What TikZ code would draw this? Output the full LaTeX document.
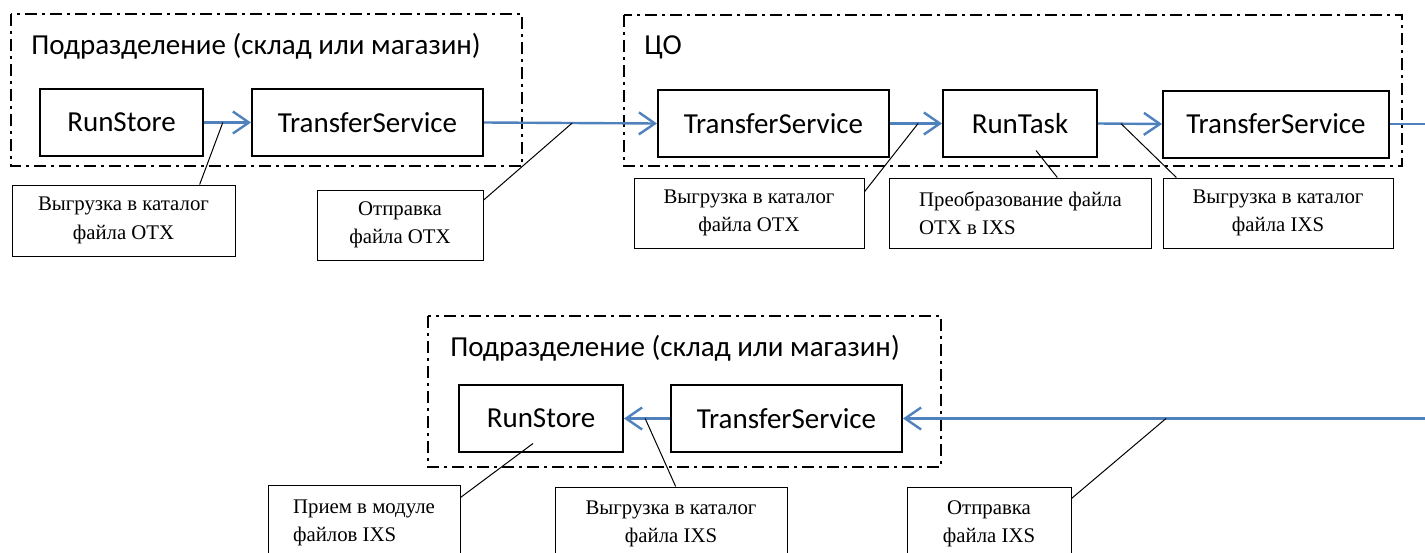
\documentclass[tikz,border=0pt]{standalone}
\usepackage{fontspec}
\setmainfont{Liberation Serif}
\newfontfamily\boxfont{Carlito}
\usetikzlibrary{arrows.meta,calc}
\definecolor{flowblue}{RGB}{79,129,189}

\begin{document}
\begin{tikzpicture}[x=0.5pt, y=-0.5pt,
  unit/.style={draw=black, line width=1pt, font=\boxfont\fontsize{14.5}{17}\selectfont, inner sep=0pt, minimum height=33.5pt},
  note/.style={draw=black, line width=0.5pt, font=\fontsize{10.4}{14.3}\selectfont, inner sep=0pt, minimum height=35pt, align=center},
  zone/.style={line width=0.8pt, dash pattern=on 6pt off 2.5pt on 1.5pt off 2.5pt},
  title/.style={anchor=west, inner sep=0pt, font=\boxfont\fontsize{14.5}{17}\selectfont},
  flow/.style={flowblue, line width=1.2pt, -{Straight Barb[length=8pt,width=11pt]}},
  lead/.style={line width=0.5pt}]
  \clip (0,0) rectangle (1425,552);

  % Subdivision, sending side
  \draw[zone] (11,14) rectangle (522,166);
  \node[title] (sub1) at (31,46) {Подразделение (склад или магазин)};
  \node[unit, minimum width=81.5pt] (rs1) at (121.5,122.5) {RunStore};
  \node[unit, minimum width=115.5pt] (ts1) at (367.5,122.5) {TransferService};

  % Central office
  \draw[zone] (624,15) rectangle (1402,166);
  \node[title] (co) at (644,47) {ЦО};
  \node[unit, minimum width=115.5pt] (ts2) at (773.5,123.5) {TransferService};
  \node[unit, minimum width=77pt] (rt) at (1020,123.5) {RunTask};
  \node[unit, minimum width=113pt] (ts3) at (1276,124) {TransferService};

  % Subdivision, receiving side
  \draw[zone] (428,316) rectangle (941,467);
  \node[title] (sub2) at (450,348) {Подразделение (склад или магазин)};
  \node[unit, minimum width=82pt] (rs2) at (541,418.5) {RunStore};
  \node[unit, minimum width=115.5pt] (ts4) at (786.5,418.5) {TransferService};

  % Notes
  \node[note, minimum width=111.5pt, minimum height=35.5pt] (c1) at (123.5,220.5) {Выгрузка в каталог\\файла ОТХ};
  \node[note, minimum width=83pt] (c2) at (400,225) {Отправка\\файла ОТХ};
  \node[note, minimum width=115pt] (ca) at (749,213) {Выгрузка в каталог\\файла ОТХ};
  \node[note, minimum width=131pt, align=left] (cb) at (1020.5,213) {Преобразование файла\\OTX в IXS};
  \node[note, minimum width=115pt] (cc) at (1278,213) {Выгрузка в каталог\\файла IXS};
  \node[note, minimum width=96pt, minimum height=38pt, align=left] (cd) at (364,523) {Прием в модуле\\файлов IXS};
  \node[note, minimum width=116pt, minimum height=37pt] (ce) at (671,524) {Выгрузка в каталог\\файла IXS};
  \node[note, minimum width=82pt, minimum height=37pt] (cf) at (989,524) {Отправка\\файла IXS};

  % Flow arrows
  \coordinate (edge) at (1445,0);
  \draw[flow] (rs1.east) -- (ts1.west);
  \draw[flow] (ts1.east) -- (ts2.west);
  \draw[flow] (ts2.east) -- (rt.west);
  \draw[flow] (rt.east) -- (ts3.west);
  \draw[flow] (ts3.east) -- (ts3.east -| edge) -- (ts4.east -| edge) -- (ts4.east);
  \draw[flow] (ts4.west) -- (rs2.east);

  % Note leaders
  \draw[lead] ($(c1.north west)!0.84!(c1.north east)$) -- ($(rs1.east)!0.4!(ts1.west)$);
  \draw[lead] ($(c2.north east)!0.15!(c2.south east)$) -- ($(ts1.east)!0.51!(ts2.west)$);
  \draw[lead] ($(ca.north east)!0.2!(ca.south east)$) -- ($(ts2.east)!0.54!(rt.west)$);
  \draw[lead] ($(cb.north west)!0.64!(cb.north east)$) -- ($(rt.center)+(16,27)$);
  \draw[lead] ($(cc.north west)!0.06!(cc.north east)$) -- ($(rt.east)!0.36!(ts3.west)$);
  \draw[lead] ($(cd.north east)+(0,13)$) -- ($(rs2.center)+(-8,25)$);
  \draw[lead] ($(ce.north west)!0.52!(ce.north east)$) -- ($(rs2.east)!0.46!(ts4.west)$);
  \draw[lead] ($(cf.north east)+(0,12)$) -- ($(ts4.east)+(263,0)$);
\end{tikzpicture}
\end{document}
